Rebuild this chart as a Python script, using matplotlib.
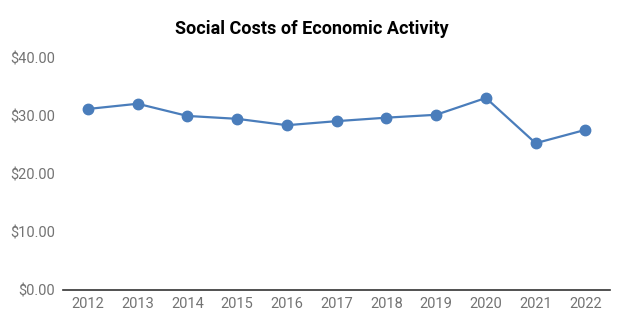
import matplotlib.pyplot as plt

plt.rcParams["font.family"] = ["Roboto", "DejaVu Sans"]

years = [2012, 2013, 2014, 2015, 2016, 2017, 2018, 2019, 2020, 2021, 2022]
costs = [31.2, 32.1, 30.0, 29.5, 28.4, 29.1, 29.7, 30.2, 33.1, 25.3, 27.6]
y_ticks = [0, 10, 20, 30, 40]

fig = plt.figure(figsize=(6.24, 3.31), dpi=100)
ax = fig.add_axes([0.101, 0.124, 0.877, 0.701])

ax.plot(years, costs, color="#4a7dbb", linewidth=1.6, marker="o", markersize=7.5)

ax.set_xlim(2011.5, 2022.5)
ax.set_ylim(0, 40)
ax.set_xticks(years)
ax.set_xticklabels([str(y) for y in years])
ax.set_yticks(y_ticks)
ax.set_yticklabels([f"${v:.2f}" for v in y_ticks])
ax.tick_params(length=0, colors="#737373", labelsize=10.5)
ax.tick_params(axis="y", pad=6)
ax.tick_params(axis="x", pad=5)

for side in ["top", "right", "left"]:
    ax.spines[side].set_visible(False)
ax.spines["bottom"].set_color("#333333")
ax.spines["bottom"].set_linewidth(1.2)
ax.set_clip_on(False)

fig.text(0.5, 0.912, "Social Costs of Economic Activity", ha="center", va="center",
         fontsize=13, fontweight="bold", color="#000000")

fig.savefig("out.png", dpi=100)
